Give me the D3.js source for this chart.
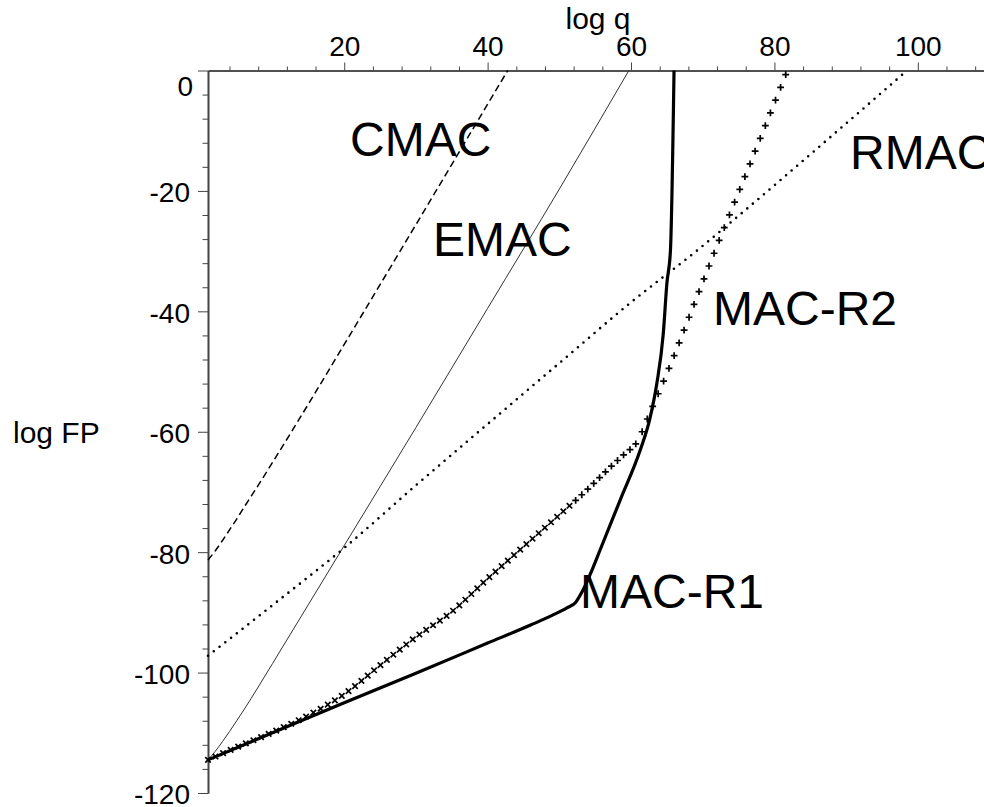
<!DOCTYPE html>
<html><head><meta charset="utf-8">
<script src="https://cdn.jsdelivr.net/npm/d3@7"></script>
<style>
body{margin:0;background:#fff}
svg{display:block}
text{font-family:"Liberation Sans",Arial,Helvetica,sans-serif;fill:#000}
</style>
</head><body>
<svg id="chart" width="984" height="807"></svg>
<script>
// ---------- data ----------
const xMajorTicks = [20, 40, 60, 80, 100];
const xMinorTicks = [4, 8, 12, 16, 24, 28, 32, 36, 44, 48, 52, 56, 64, 68, 72, 76, 84, 88, 92, 96, 104, 108];
const yMajorTicks = [0, -20, -40, -60, -80, -100, -120];
const yMinorTicks = [-4, -8, -12, -16, -24, -28, -32, -36, -44, -48, -52, -56, -64, -68, -72, -76, -84, -88, -92, -96, -104, -108, -112, -116];

const cmacX = [1, 2, 3, 4, 5, 6, 8, 10, 15, 20, 30, 40, 42.8];
const cmacY = [-81.3, -79.8, -78.1, -76.3, -74.5, -72.6, -68.9, -65.1, -55.4, -45.5, -25.6, -5.6, 0];

const emacX = [1, 2, 3, 4, 5, 6, 8, 10, 15, 20, 30, 40, 50, 59.7];
const emacY = [-114.5, -113.1, -111.5, -109.8, -108, -106.2, -102.4, -98.5, -88.7, -78.9, -59.3, -39.5, -19.7, 0];

const rmacX = [1, 5, 10, 20, 30, 41.8, 50, 60, 69.2, 77.8, 90, 98.5];
const rmacY = [-97.2, -93.5, -88.8, -79.3, -68.9, -56.9, -48.6, -38.5, -29.9, -21.3, -8.8, 0];

const r1X = [1, 10, 20, 30, 40, 46, 49, 51, 52.3, 53.3, 54.3, 55.7, 58.5, 61.3, 62.6, 63.6, 64.5, 65, 65.5, 66];
const r1Y = [-114.5, -110, -105, -100.1, -95.1, -92.1, -90.5, -89.3, -88.3, -86.3, -83.7, -79.6, -71.3, -63, -58, -52, -43.7, -35.4, -29.9, 0];

const r2X = [1, 5, 10, 15, 20, 25, 30, 35, 40, 45, 50, 54, 57, 59, 61, 62.4, 64, 65.5, 67.6, 71.3, 76, 81.6];
const r2Y = [-114.5, -112.4, -109.9, -107.1, -103.6, -98.8, -94.1, -89.9, -84.4, -79.1, -73.8, -69.5, -66, -63.8, -61.4, -57.5, -53.1, -48.9, -42.5, -31.2, -17.3, -0.6];

const curveLabels = ["CMAC", "EMAC", "RMAC", "MAC-R2", "MAC-R1"];
const xTitle = "log q";
const yTitle = "log FP";

// ---------- drawing ----------
const svg = d3.select("#chart");
const x = d3.scaleLinear().domain([1, 110]).range([208, 989.5]);
const y = d3.scaleLinear().domain([-120, 0]).range([793, 70.5]);
const axisColor = "#444";
const fmt = d => String(d);

const zip = (xs, ys) => xs.map((v, i) => [v, ys[i]]);
const line = d3.line().x(d => x(d[0])).y(d => y(d[1])).curve(d3.curveMonotoneX);

const gxMinor = svg.append("g").attr("transform", `translate(0,${y(0)})`)
  .call(d3.axisTop(x).tickValues(xMinorTicks).tickSize(4).tickSizeOuter(0).tickFormat(""));
const gx = svg.append("g").attr("transform", `translate(0,${y(0)})`)
  .call(d3.axisTop(x).tickValues(xMajorTicks).tickSize(8).tickSizeOuter(0).tickPadding(8).tickFormat(fmt));
const gyMinor = svg.append("g").attr("transform", `translate(${x(1)},0)`)
  .call(d3.axisLeft(y).tickValues(yMinorTicks).tickSize(5.5).tickSizeOuter(0).tickFormat(""));
const gy = svg.append("g").attr("transform", `translate(${x(1)},0)`)
  .call(d3.axisLeft(y).tickValues(yMajorTicks).tickSize(10).tickSizeOuter(0).tickPadding(9).tickFormat(fmt));

[gxMinor, gx, gyMinor, gy].forEach(g => {
  g.attr("font-size", 28).attr("font-family", '"Liberation Sans",Arial,sans-serif');
  g.select(".domain").attr("stroke", axisColor).attr("stroke-width", 1.6);
  g.selectAll(".tick line").attr("stroke", axisColor).attr("stroke-width", 1);
  g.selectAll("text").attr("fill", "#000");
});
gx.selectAll("text").attr("dy", "0.05em");
gy.selectAll("text").attr("dy", "0.39em").attr("x", -18);
gy.selectAll(".tick").filter(d => d === 0).select("text").attr("y", 14).attr("x", -15);

// axis titles
svg.append("text").attr("x", 598).attr("y", 29).attr("text-anchor", "middle").attr("font-size", 30).text(xTitle);
svg.append("text").attr("x", 13).attr("y", y(-60) + 11.5).attr("text-anchor", "start").attr("font-size", 30).text(yTitle);

// curves
svg.append("path").datum(zip(cmacX, cmacY)).attr("d", line)
  .attr("fill", "none").attr("stroke", "#000").attr("stroke-width", 1.5).attr("stroke-dasharray", "7,4");
svg.append("path").datum(zip(emacX, emacY)).attr("d", line)
  .attr("fill", "none").attr("stroke", "#333").attr("stroke-width", 1);
svg.append("path").datum(zip(rmacX, rmacY)).attr("d", line)
  .attr("fill", "none").attr("stroke", "#000").attr("stroke-width", 2.6)
  .attr("stroke-linecap", "round").attr("stroke-dasharray", "0,7.3");
svg.append("path").datum(zip(r1X, r1Y)).attr("d", line)
  .attr("fill", "none").attr("stroke", "#000").attr("stroke-width", 3.2).attr("stroke-linejoin", "round");

// MAC-R2: point style along its curve
const r2Path = svg.append("path").datum(zip(r2X, r2Y)).attr("d", line)
  .attr("fill", "none").attr("stroke", "none");
const node = r2Path.node();
const L = node.getTotalLength();
const marks = [];
let last = node.getPointAtLength(0);
marks.push(last);
for (let l = 0.25; l <= L; l += 0.25) {
  const p = node.getPointAtLength(l);
  const dx = p.x - last.x, dy = p.y - last.y;
  const steep = Math.abs(dy) > 1.5 * Math.abs(dx);
  const s = steep ? 13.6 : 8.2;
  if (Math.hypot(dx, dy) >= s) { marks.push(p); last = p; }
}
const r = 3.4;
const gm = svg.append("g").attr("stroke", "#000").attr("stroke-width", 1.7).attr("fill", "none");
marks.forEach(p => {
  const diag = p.x < x(52);
  const k = r * 0.8;
  const d = diag
    ? `M${p.x - k},${p.y - k}L${p.x + k},${p.y + k}M${p.x - k},${p.y + k}L${p.x + k},${p.y - k}`
    : `M${p.x - r},${p.y}L${p.x + r},${p.y}M${p.x},${p.y - r}L${p.x},${p.y + r}`;
  gm.append("path").attr("d", d);
});

// curve labels
const labelPos = [[350, 156], [433, 256], [850, 169], [713, 325], [580, 608]];
curveLabels.forEach((t, i) => {
  svg.append("text").attr("x", labelPos[i][0]).attr("y", labelPos[i][1])
    .attr("font-size", 48).text(t);
});
</script>
</body></html>
